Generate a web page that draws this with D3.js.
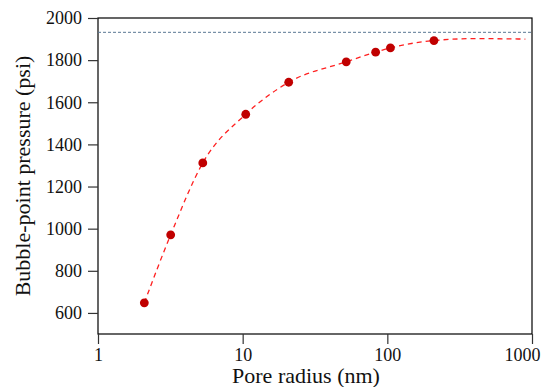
<!DOCTYPE html>
<html>
<head>
<meta charset="utf-8">
<script src="https://cdn.jsdelivr.net/npm/d3@7"></script>
<style>
  body { margin: 0; background: #fff; }
  svg text { font-family: "Liberation Serif", "DejaVu Serif", serif !important; }
</style>
</head>
<body>
<div class="canvas"></div>
<script>
// Data
const radius_nm = [2.09, 3.18, 5.3, 10.5, 20.8, 52, 83, 105, 210];
const pressure_psi = [648, 971, 1312, 1543, 1695, 1792, 1838, 1858, 1893];
// dashed fit line continues past the last point
const fit_radius = [2.09, 3.18, 5.3, 10.5, 20.8, 52, 83, 105, 210, 400, 900];
const fit_pressure = [648, 971, 1312, 1543, 1695, 1792, 1838, 1858, 1893, 1902, 1900];
const ref_pressure = 1932;
const x_ticks = [1, 10, 100, 1000];
const y_ticks = [600, 800, 1000, 1200, 1400, 1600, 1800, 2000];

const width = 541, height = 387;
const plot_left = 98, plot_right = 532, plot_top = 18, plot_bottom = 334;
const font = "Liberation Serif, DejaVu Serif, serif";
const point_color = "#c00000";
const fit_color = "#ff2020";
const ref_color = "#5a7894";

const svg = d3.select(".canvas").append("svg")
  .attr("width", width)
  .attr("height", height)
  .attr("font-family", font);

const xScale = d3.scaleLog().domain([1, 1000]).range([plot_left, plot_right]);
const yScale = d3.scaleLinear().domain([500, 2000]).range([plot_bottom, plot_top]);

// frame
svg.append("rect")
  .attr("x", plot_left).attr("y", plot_top)
  .attr("width", plot_right - plot_left).attr("height", plot_bottom - plot_top)
  .attr("fill", "none").attr("stroke", "#000").attr("stroke-width", 1.2);

// axes
const xAxis = svg.append("g")
  .attr("transform", "translate(0," + plot_bottom + ")")
  .call(d3.axisBottom(xScale).tickValues(x_ticks).tickFormat(d3.format("d")).tickSize(10).tickSizeOuter(0).tickPadding(4));
xAxis.attr("font-family", font);
xAxis.select(".domain").remove();
xAxis.selectAll("line").attr("stroke", "#333").attr("stroke-width", 1.2);
xAxis.selectAll("text").attr("font-size", "18px").attr("fill", "#111");
xAxis.selectAll(".tick").filter(d => d === 1000).select("text")
  .attr("text-anchor", "end").attr("x", width - 1 - plot_right);

const yAxis = svg.append("g")
  .attr("transform", "translate(" + plot_left + ",0)")
  .call(d3.axisLeft(yScale).tickValues(y_ticks).tickFormat(d3.format("d")).tickSize(10).tickSizeOuter(0).tickPadding(6));
yAxis.attr("font-family", font);
yAxis.select(".domain").remove();
yAxis.selectAll("line").attr("stroke", "#333").attr("stroke-width", 1.2);
yAxis.selectAll("text").attr("font-size", "18px").attr("fill", "#111");

// reference line
svg.append("line")
  .attr("x1", plot_left).attr("x2", plot_right)
  .attr("y1", yScale(ref_pressure)).attr("y2", yScale(ref_pressure))
  .attr("stroke", ref_color).attr("stroke-width", 1)
  .attr("stroke-dasharray", "3,2");

// fit line
const fit = fit_radius.map((r, i) => [r, fit_pressure[i]]);
const lineGen = d3.line()
  .x(d => xScale(d[0]))
  .y(d => yScale(d[1]))
  .curve(d3.curveMonotoneX);

svg.append("path")
  .attr("d", lineGen(fit))
  .attr("fill", "none")
  .attr("stroke", fit_color)
  .attr("stroke-width", 1.3)
  .attr("stroke-dasharray", "5,4");

// points
svg.selectAll("circle.pt")
  .data(radius_nm.map((r, i) => [r, pressure_psi[i]]))
  .enter()
  .append("circle")
  .attr("class", "pt")
  .attr("cx", d => xScale(d[0]))
  .attr("cy", d => yScale(d[1]))
  .attr("r", 4.4)
  .attr("fill", point_color);

// axis titles
svg.append("text")
  .attr("x", 306).attr("y", 383)
  .attr("text-anchor", "middle")
  .attr("font-size", "22px")
  .attr("fill", "#111")
  .text("Pore radius (nm)");

svg.append("text")
  .attr("transform", "translate(30," + ((plot_top + plot_bottom) / 2) + ") rotate(-90)")
  .attr("text-anchor", "middle")
  .attr("font-size", "22px")
  .attr("fill", "#111")
  .text("Bubble-point pressure (psi)");
</script>
</body>
</html>
